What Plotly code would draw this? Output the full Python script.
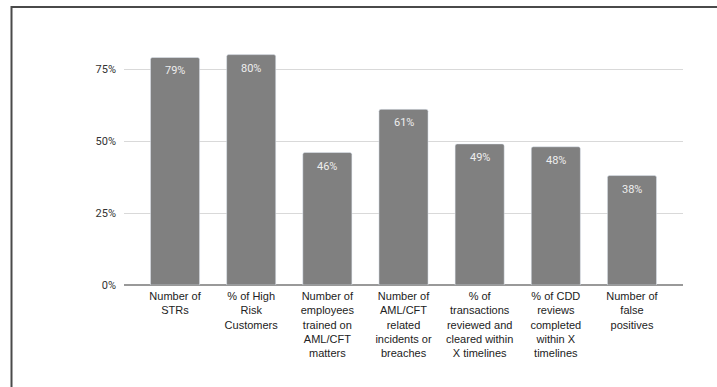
import plotly.graph_objects as go

categories = [
    "Number of<br>STRs",
    "% of High<br>Risk<br>Customers",
    "Number of<br>employees<br>trained on<br>AML/CFT<br>matters",
    "Number of<br>AML/CFT<br>related<br>incidents or<br>breaches",
    "% of<br>transactions<br>reviewed and<br>cleared within<br>X timelines",
    "% of CDD<br>reviews<br>completed<br>within X<br>timelines",
    "Number of<br>false<br>positives",
]
values = [0.79, 0.80, 0.46, 0.61, 0.49, 0.48, 0.38]
tick_vals = [0, 0.25, 0.5, 0.75]
tick_text = ["0%", "25%", "50%", "75%"]

W, H = 717, 387
ML, MR, MT, MB = 124, 34, 40, 102
plot_w = W - ML - MR
plot_h = H - MT - MB

xs = list(range(len(categories)))

fig = go.Figure(
    go.Bar(
        x=xs,
        y=values,
        marker=dict(color="#808080", cornerradius=2),
        hoverinfo="skip",
    )
)

# value labels just under each bar's top edge
for x, v in zip(xs, values):
    fig.add_annotation(
        x=x,
        y=v,
        text=f"{v:.0%}",
        showarrow=False,
        yanchor="top",
        yshift=-5,
        font=dict(family="Roboto", size=11, color="#eeeeee"),
    )

# frame line along the left and top edges of the page
def px_to_paper_x(px):
    return (px - ML) / plot_w


def px_to_paper_y(py):
    return (H - MB - py) / plot_h


fig.add_shape(
    type="path",
    xref="paper",
    yref="paper",
    path=(
        f"M {px_to_paper_x(11.5)} {px_to_paper_y(H + 5)} "
        f"L {px_to_paper_x(11.5)} {px_to_paper_y(7)} "
        f"L {px_to_paper_x(W + 5)} {px_to_paper_y(7)}"
    ),
    line=dict(color="#4a4a4a", width=2),
)

fig.update_layout(
    width=W,
    height=H,
    margin=dict(l=ML, r=MR, t=MT, b=MB),
    paper_bgcolor="white",
    plot_bgcolor="white",
    bargap=0.355,
    showlegend=False,
    xaxis=dict(
        tickmode="array",
        tickvals=xs,
        ticktext=categories,
        range=[-0.67, len(categories) - 0.33],
        tickfont=dict(family="Liberation Sans", size=11, color="#222222"),
        showgrid=False,
        showline=False,
        ticks="",
        ticklabelstandoff=3,
        fixedrange=True,
    ),
    yaxis=dict(
        range=[0, plot_h / 288],
        tickvals=tick_vals,
        ticktext=tick_text,
        tickfont=dict(family="Roboto", size=11, color="#333333"),
        gridcolor="#d9d9d9",
        gridwidth=1,
        zeroline=True,
        zerolinecolor="#999999",
        zerolinewidth=1.5,
        showline=False,
        ticks="",
        ticklabelstandoff=7,
        fixedrange=True,
    ),
)

fig.write_html("out.html")
